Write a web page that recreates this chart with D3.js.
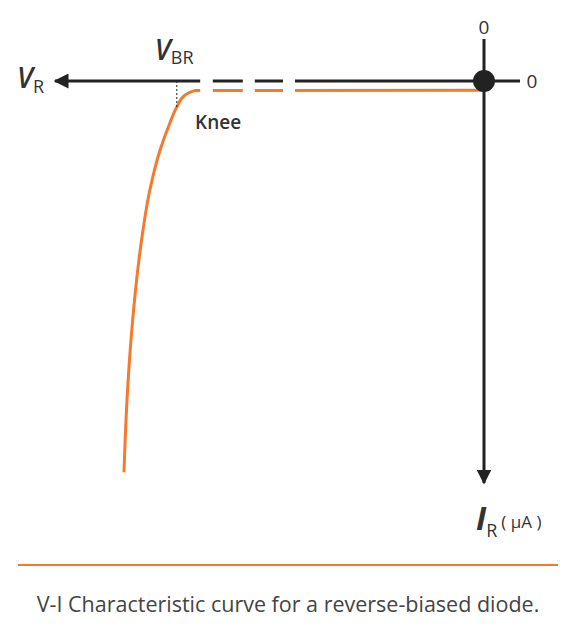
<!DOCTYPE html>
<html><head><meta charset="utf-8">
<script src="https://cdn.jsdelivr.net/npm/d3@7"></script>
<style>body{margin:0;background:#fff}text{font-family:"Open Sans",sans-serif;fill:#333}</style>
</head><body><div id="wrapper"></div>
<script>
// reverse voltage (arbitrary units, negative to the left) and reverse current
const voltage = [-60, -59.5, -58.7, -57.3, -55.7, -54, -52.3, -51.2, -49.8, -48.2, 0]
const current = [-97.8, -79.8, -62.3, -42.3, -27.3, -17.3, -10.3, -6.5, -3.5, -2.4, -2.3]
const breakdownVoltage = -51.2
const breaks = [[-47.3, -45.2], [-40.2, -38.2], [-33.5, -31.5]]
const tickLabels = ["0", "0"]

const width = 576, height = 634
const svg = d3.select("#wrapper").append("svg").attr("width", width).attr("height", height)

const xScale = d3.scaleLinear().domain([-72, 0]).range([52, 484])
const yScale = d3.scaleLinear().domain([0, -100]).range([81, 481])
const dark = "#222", orange = "#f47a2c"

const defs = svg.append("defs")
defs.append("marker").attr("id", "arrow").attr("viewBox", "0 0 10 10")
  .attr("refX", 9).attr("refY", 5).attr("markerWidth", 5).attr("markerHeight", 5)
  .attr("markerUnits", "strokeWidth").attr("orient", "auto")
  .append("path").attr("d", "M0,0L10,5L0,10Z").attr("fill", dark)

// axes
svg.append("line").attr("x1", xScale(0) + 36).attr("x2", xScale(-71.5))
  .attr("y1", yScale(0)).attr("y2", yScale(0))
  .attr("stroke", dark).attr("stroke-width", 3).attr("marker-end", "url(#arrow)")
svg.append("line").attr("x1", xScale(0)).attr("x2", xScale(0))
  .attr("y1", yScale(0) - 42).attr("y2", yScale(-100.5))
  .attr("stroke", dark).attr("stroke-width", 3).attr("marker-end", "url(#arrow)")

// curve
svg.append("path").datum(d3.zip(voltage, current))
  .attr("d", d3.line().x(d => xScale(d[0])).y(d => yScale(d[1])).curve(d3.curveMonotoneY))
  .attr("fill", "none").attr("stroke", orange).attr("stroke-width", 3)

// breaks in the axis
svg.selectAll(".gap").data(breaks).join("rect")
  .attr("x", d => xScale(d[0])).attr("width", d => xScale(d[1]) - xScale(d[0]))
  .attr("y", yScale(0) - 5).attr("height", 20).attr("fill", "#fff")

// breakdown guide
svg.append("line").attr("x1", xScale(breakdownVoltage)).attr("x2", xScale(breakdownVoltage))
  .attr("y1", yScale(0)).attr("y2", yScale(-6.5))
  .attr("stroke", dark).attr("stroke-width", 1).attr("stroke-dasharray", "2,2")

svg.append("circle").attr("cx", xScale(0)).attr("cy", yScale(0)).attr("r", 11).attr("fill", dark)

svg.append("text").attr("x", xScale(0)).attr("y", 34).attr("text-anchor", "middle")
  .attr("font-size", 19).text(tickLabels[0])
svg.append("text").attr("x", xScale(0) + 48).attr("y", yScale(0) + 7).attr("text-anchor", "middle")
  .attr("font-size", 19).text(tickLabels[1])

const vbr = svg.append("text").attr("x", xScale(breakdownVoltage) - 22).attr("y", 60)
vbr.append("tspan").attr("font-size", 28).attr("font-style", "italic").attr("font-weight", 600).text("V")
vbr.append("tspan").attr("font-size", 18).attr("dy", 4).text("BR")

const vr = svg.append("text").attr("x", 17).attr("y", 88)
vr.append("tspan").attr("font-size", 28).attr("font-style", "italic").attr("font-weight", 600).text("V")
vr.append("tspan").attr("font-size", 18).attr("dy", 5).text("R")

svg.append("text").attr("x", 195).attr("y", 129).attr("font-size", 19).attr("font-weight", 600).text("Knee")

const ir = svg.append("text").attr("x", 476).attr("y", 530)
ir.append("tspan").attr("font-size", 32).attr("font-style", "italic").attr("font-weight", 700).text("I")
ir.append("tspan").attr("font-size", 18).attr("dy", 7).text("R")
ir.append("tspan").attr("font-size", 17).attr("dy", -9).attr("dx", 4).text("( μA )")

svg.append("line").attr("x1", 18).attr("x2", 558).attr("y1", 565).attr("y2", 565)
  .attr("stroke", orange).attr("stroke-width", 2)
svg.append("text").attr("x", 288).attr("y", 612).attr("text-anchor", "middle")
  .attr("font-size", 21.5).style("fill", "#444")
  .text("V-I Characteristic curve for a reverse-biased diode.")
</script></body></html>
